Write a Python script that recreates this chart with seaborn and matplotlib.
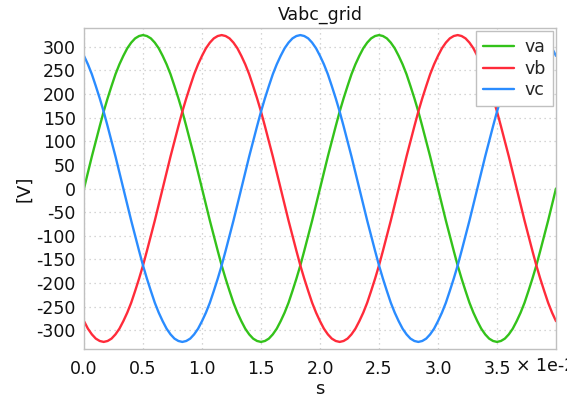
import numpy as np
import pandas as pd
import matplotlib
matplotlib.use("Agg")
import matplotlib.pyplot as plt
import seaborn as sns
from matplotlib.ticker import MultipleLocator, FuncFormatter, FixedLocator

t_start = 0.0
t_end = 0.04
n_samples = 121

va = [0, 34, 68, 100, 132, 163, 191, 217, 242, 263, 281, 297, 309, 318, 323, 325,
      323, 318, 309, 297, 281, 263, 242, 217, 191, 163, 132, 100, 68, 34,
      0, -34, -68, -100, -132, -163, -191, -217, -242, -263, -281, -297, -309, -318, -323, -325,
      -323, -318, -309, -297, -281, -263, -242, -217, -191, -163, -132, -100, -68, -34,
      0, 34, 68, 100, 132, 163, 191, 217, 242, 263, 281, 297, 309, 318, 323, 325,
      323, 318, 309, 297, 281, 263, 242, 217, 191, 163, 132, 100, 68, 34,
      0, -34, -68, -100, -132, -163, -191, -217, -242, -263, -281, -297, -309, -318, -323, -325,
      -323, -318, -309, -297, -281, -263, -242, -217, -191, -163, -132, -100, -68, -34,
      0]

vb = [-281, -297, -309, -318, -323, -325, -323, -318, -309, -297,
      -281, -263, -242, -217, -191, -163, -132, -100, -68, -34,
      0, 34, 68, 100, 132, 163, 191, 217, 242, 263, 281, 297, 309, 318, 323, 325,
      323, 318, 309, 297, 281, 263, 242, 217, 191, 163, 132, 100, 68, 34,
      0, -34, -68, -100, -132, -163, -191, -217, -242, -263, -281, -297, -309, -318, -323, -325,
      -323, -318, -309, -297, -281, -263, -242, -217, -191, -163, -132, -100, -68, -34,
      0, 34, 68, 100, 132, 163, 191, 217, 242, 263, 281, 297, 309, 318, 323, 325,
      323, 318, 309, 297, 281, 263, 242, 217, 191, 163, 132, 100, 68, 34,
      0, -34, -68, -100, -132, -163, -191, -217, -242, -263, -281]

vc = [281, 263, 242, 217, 191, 163, 132, 100, 68, 34,
      0, -34, -68, -100, -132, -163, -191, -217, -242, -263,
      -281, -297, -309, -318, -323, -325, -323, -318, -309, -297,
      -281, -263, -242, -217, -191, -163, -132, -100, -68, -34,
      0, 34, 68, 100, 132, 163, 191, 217, 242, 263, 281, 297, 309, 318, 323, 325,
      323, 318, 309, 297, 281, 263, 242, 217, 191, 163, 132, 100, 68, 34,
      0, -34, -68, -100, -132, -163, -191, -217, -242, -263, -281, -297, -309, -318, -323, -325,
      -323, -318, -309, -297, -281, -263, -242, -217, -191, -163, -132, -100, -68, -34,
      0, 34, 68, 100, 132, 163, 191, 217, 242, 263, 281, 297, 309, 318, 323, 325,
      323, 318, 309, 297, 281]

series_names = ["va", "vb", "vc"]
colors = {"va": "#33c21a", "vb": "#ff2b3a", "vc": "#2a8cff"}
x_ticks = [0.0, 0.005, 0.01, 0.015, 0.02, 0.025, 0.03, 0.035]
x_tick_labels = ["0.0", "0.5", "1.0", "1.5", "2.0", "2.5", "3.0", "3.5"]

t = np.linspace(t_start, t_end, n_samples)
df = pd.concat([
    pd.DataFrame({"t": t, "v": va, "sig": "va"}),
    pd.DataFrame({"t": t, "v": vb, "sig": "vb"}),
    pd.DataFrame({"t": t, "v": vc, "sig": "vc"}),
])

sns.set_theme(style="white")
plt.rcParams["font.family"] = ["DejaVu Sans"]

fig = plt.figure(figsize=(5.67, 3.99), dpi=100)
ax = fig.add_axes([84 / 567, 1 - 349 / 399, (556 - 84) / 567, (349 - 28) / 399])

sns.lineplot(data=df, x="t", y="v", hue="sig", palette=colors, hue_order=series_names,
             linewidth=1.7, ax=ax, legend=True)

ax.set_xlim(0, 0.04)
ax.set_ylim(-340, 340)
ax.set_xticks(x_ticks)
ax.set_xticklabels(x_tick_labels)
ax.yaxis.set_major_locator(MultipleLocator(50))
ax.yaxis.set_major_formatter(FuncFormatter(lambda y, p: f"{int(round(y))}"))

ax.grid(True, color="#c8c8c8", linestyle=(0, (1, 3)), linewidth=0.9)
for s in ax.spines.values():
    s.set_color("#c0c0c0")
    s.set_linewidth(1.0)
ax.tick_params(axis="both", which="major", direction="out", length=4, width=1,
               color="#b0b0b0", labelsize=12.5, labelcolor="#111111", pad=2)
ax.tick_params(axis="x", pad=4)

ax.set_title("Vabc_grid", fontsize=12.5, color="#111111", pad=6)
ax.set_xlabel("s", fontsize=13, color="#111111", labelpad=1)
ax.set_ylabel("[V]", fontsize=13, color="#111111", labelpad=2)

# x offset label
fig.text(516 / 567, 1 - 366 / 399, "× 1e-2", fontsize=12.5, color="#111111",
         ha="left", va="center")

leg = ax.legend(loc="upper right", fontsize=12.5, frameon=True, fancybox=False,
                framealpha=1, edgecolor="#c0c0c0", handlelength=1.8,
                borderaxespad=0.2, labelspacing=0.2, handletextpad=0.6,
                borderpad=0.4)
leg.get_frame().set_linewidth(1.0)

fig.savefig("out.png", dpi=100)
